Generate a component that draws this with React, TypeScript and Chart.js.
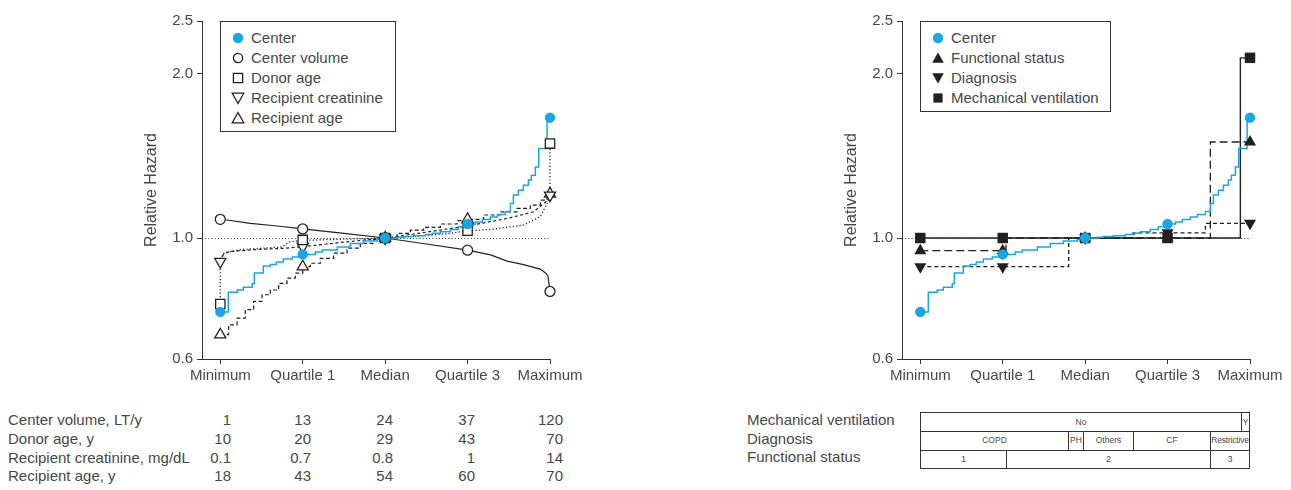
import React, { useEffect, useRef } from "react";
import { Chart, registerables } from "chart.js";

Chart.register(...registerables);

const FONT = '"Liberation Sans", Arial, Helvetica, sans-serif';
const TEXT = "#474747";
const INK = "#231f20";
const BLUE = "#1aa7e1";

// ---------- axis content ----------
const quartileLabels = ["Minimum", "Quartile 1", "Median", "Quartile 3", "Maximum"];
const quartilePositions = [0, 1, 2, 3, 4];
const yTickValues = [0.6, 1.0, 2.0, 2.5];

// ---------- Center (both panels) ----------
const centerX = [0, 0.097, 0.206, 0.279, 0.388, 0.413, 0.522, 0.607, 0.68, 0.765, 0.874, 1.0, 1.153, 1.238, 1.42, 1.578, 1.735, 1.905, 2.0, 2.148, 2.221, 2.342, 2.488, 2.573, 2.67, 2.791, 2.888, 3.0, 3.095, 3.18, 3.277, 3.362, 3.459, 3.519, 3.556, 3.617, 3.677, 3.738, 3.774, 3.823, 3.863, 3.965, 4.0];
const centerY = [0.732, 0.795, 0.803, 0.812, 0.824, 0.863, 0.889, 0.894, 0.904, 0.915, 0.923, 0.933, 0.943, 0.951, 0.963, 0.977, 0.987, 0.994, 1.0, 1.003, 1.006, 1.01, 1.015, 1.02, 1.027, 1.037, 1.049, 1.061, 1.07, 1.081, 1.093, 1.104, 1.118, 1.157, 1.199, 1.224, 1.25, 1.277, 1.304, 1.35, 1.459, 1.662, 1.662];
const centerMarkers = [0.732, 0.933, 1.0, 1.061, 1.662];

// ---------- left panel ----------
const centerVolumeX = [0, 0.08, 0.364, 0.688, 1.0, 1.5, 2.0, 2.5, 3.0, 3.28, 3.48, 3.68, 3.88, 3.95, 3.975, 4.0];
const centerVolumeY = [1.082, 1.079, 1.064, 1.052, 1.039, 1.02, 1.0, 0.975, 0.95, 0.931, 0.907, 0.894, 0.877, 0.862, 0.852, 0.798];
const centerVolumeMarkers = [1.082, 1.039, 1.0, 0.95, 0.798];

const donorAgeX = [0, 0, 0.05, 0.25, 0.6, 0.75, 0.85, 1.0, 1.5, 2.0, 2.4, 2.8, 3.0, 3.28, 3.68, 3.88, 3.965, 4.0, 4.0];
const donorAgeY = [0.757, 0.915, 0.94, 0.952, 0.96, 0.963, 0.985, 0.99, 0.995, 1.0, 1.008, 1.02, 1.031, 1.037, 1.056, 1.094, 1.157, 1.19, 1.49];
const donorAgeMarkers = [0.757, 0.992, 1.0, 1.031, 1.49];

const creatinineX = [0, 0.04, 0.12, 0.4, 0.8, 1.0, 1.5, 2.0, 2.5, 3.0, 3.05, 3.48, 3.8, 3.95, 4.0];
const creatinineY = [0.905, 0.935, 0.945, 0.952, 0.958, 0.964, 0.983, 1.0, 1.025, 1.052, 1.056, 1.086, 1.117, 1.165, 1.198];
const creatinineMarkers = [0.905, 0.964, 1.0, 1.052, 1.198];

const recipientAgeX = [0, 0.101, 0.203, 0.303, 0.404, 0.506, 0.607, 0.708, 0.809, 0.91, 1.0, 1.092, 1.214, 1.375, 1.538, 1.699, 1.86, 2.0, 2.144, 2.306, 2.467, 2.67, 2.873, 3.0, 3.195, 3.398, 3.601, 3.762, 3.883, 3.965, 4.0];
const recipientAgeY = [0.665, 0.693, 0.713, 0.739, 0.765, 0.787, 0.803, 0.826, 0.844, 0.862, 0.886, 0.899, 0.918, 0.938, 0.958, 0.978, 0.995, 1.0, 1.02, 1.034, 1.046, 1.061, 1.076, 1.082, 1.102, 1.117, 1.133, 1.149, 1.173, 1.19, 1.205];
const recipientAgeMarkers = [0.665, 0.886, 1.0, 1.082, 1.205];

// ---------- right panel ----------
const functionalX = [0, 1.04, 3.519, 4.0];
const functionalY = [0.948, 1.0, 1.5, 1.5];
const functionalMarkers = [0.948, 0.948, 1.0, 1.0, 1.5];

const diagnosisX = [0, 1.8, 2.589, 3.459, 4.0];
const diagnosisY = [0.886, 1.0, 1.022, 1.064, 1.064];
const diagnosisMarkers = [0.886, 0.886, 1.0, 1.022, 1.064];

const ventilationX = [0, 3.883, 4.0];
const ventilationY = [1.0, 2.14, 2.14];
const ventilationMarkers = [1.0, 1.0, 1.0, 1.0, 2.14];

// ---------- tables ----------
const leftTableLabels = ["Center volume, LT/y", "Donor age, y", "Recipient creatinine, mg/dL", "Recipient age, y"];
const centerVolumeQuartiles = ["1", "13", "24", "37", "120"];
const donorAgeQuartiles = ["10", "20", "29", "43", "70"];
const creatinineQuartiles = ["0.1", "0.7", "0.8", "1", "14"];
const recipientAgeQuartiles = ["18", "43", "54", "60", "70"];

const rightTableLabels = ["Mechanical ventilation", "Diagnosis", "Functional status"];
const ventilationCategories = ["No", "Y"];
const diagnosisCategories = ["COPD", "PH", "Others", "CF", "Restrictive"];
const functionalCategories = ["1", "2", "3"];

// ---------- layout constants ----------
const LEFT_TABLE_COL_RIGHT = [231, 311, 393, 475, 563];
const LEFT_TABLE_ROW_CENTER = [420, 438.8, 457.6, 476.4];
const RIGHT_TABLE_ROWS = [412, 431, 449.5, 468];
const VENT_EDGES = [920, 1241, 1249];
const DIAG_EDGES = [920, 1068, 1083, 1133, 1210, 1249];
const FUNC_EDGES = [920, 1006, 1210, 1249];

Chart.defaults.font.family = FONT;

type Pt = { x: number; y: number };
const toPts = (xs: number[], ys: number[]): Pt[] => xs.map((x, i) => ({ x, y: ys[i] }));

function lineDs(xs: number[], ys: number[], opts: any) {
  return {
    data: toPts(xs, ys),
    borderColor: opts.color || INK,
    borderWidth: opts.width || 1.2,
    borderDash: opts.dash || [],
    stepped: opts.stepped || false,
    pointRadius: 0,
    fill: false,
    tension: 0,
    clip: false,
    order: opts.order ?? 5,
  };
}

function markerDs(vals: number[], opts: any) {
  return {
    data: toPts(quartilePositions, vals),
    showLine: false,
    pointStyle: opts.style,
    pointRadius: opts.radius,
    pointRotation: opts.rotation || 0,
    pointBackgroundColor: opts.fill,
    pointBorderColor: opts.stroke || INK,
    pointBorderWidth: opts.borderWidth ?? 1.3,
    clip: false,
    order: opts.order ?? 2,
  };
}

const refLinePlugin = {
  id: "refLine",
  beforeDatasetsDraw(chart: any) {
    const { ctx, chartArea, scales } = chart;
    const y = Math.round(scales.y.getPixelForValue(1)) + 0.5;
    ctx.save();
    ctx.setLineDash([1, 2.2]);
    ctx.strokeStyle = "#333";
    ctx.lineWidth = 1;
    ctx.beginPath();
    ctx.moveTo(chartArea.left, y);
    ctx.lineTo(chartArea.right, y);
    ctx.stroke();
    ctx.restore();
  },
};

function makeOptions() {
  return {
    responsive: false,
    animation: false,
    devicePixelRatio: 1,
    layout: { padding: { top: 21, right: 60, bottom: 11, left: 0 } },
    plugins: { legend: { display: false }, tooltip: { enabled: false } },
    events: [],
    scales: {
      x: {
        type: "linear",
        min: -0.222,
        max: 4,
        afterBuildTicks: (s: any) => {
          s.ticks = quartilePositions.map((v) => ({ value: v }));
        },
        afterFit: (s: any) => {
          s.height = 30;
          s.paddingLeft = 0;
          s.paddingRight = 0;
        },
        ticks: {
          callback: (_v: any, i: number) => quartileLabels[i],
          font: { size: 15, family: FONT },
          color: TEXT,
          padding: 3,
          maxRotation: 0,
          autoSkip: false,
        },
        grid: { drawOnChartArea: false, drawTicks: true, tickLength: 5, color: "#333", lineWidth: 1 },
        border: { display: true, color: "#333", width: 1 },
      },
      y: {
        type: "logarithmic",
        min: 0.6,
        max: 2.5,
        afterBuildTicks: (s: any) => {
          s.ticks = yTickValues.map((v) => ({ value: v }));
        },
        afterFit: (s: any) => {
          s.width = 72;
          s.paddingTop = 0;
          s.paddingBottom = 0;
        },
        ticks: {
          callback: (v: any) => Number(v).toFixed(1),
          font: { size: 15, family: FONT },
          color: TEXT,
          padding: 4,
          autoSkip: false,
        },
        grid: { drawOnChartArea: false, drawTicks: true, tickLength: 5, color: "#333", lineWidth: 1 },
        border: { display: true, color: "#333", width: 1 },
        title: {
          display: true,
          text: "Relative Hazard",
          font: { size: 16, family: FONT },
          color: TEXT,
          padding: { top: 12, bottom: 0 },
        },
      },
    },
  };
}

function leftDatasets() {
  return [
    lineDs(centerVolumeX, centerVolumeY, { width: 1.2 }),
    lineDs(donorAgeX, donorAgeY, { dash: [1.2, 2.2], width: 1.3 }),
    lineDs(creatinineX, creatinineY, { dash: [3, 2.5], width: 1.2 }),
    lineDs(recipientAgeX, recipientAgeY, { dash: [4, 2.5], width: 1.2, stepped: true }),
    lineDs(centerX, centerY, { color: BLUE, width: 1.5, stepped: true, order: 3 }),
    markerDs(centerVolumeMarkers, { style: "circle", radius: 5, fill: "#fff" }),
    markerDs(donorAgeMarkers, { style: "rect", radius: 6.6, fill: "#fff" }),
    markerDs(creatinineMarkers, { style: "triangle", radius: 6.4, rotation: 180, fill: "#fff" }),
    markerDs(recipientAgeMarkers, { style: "triangle", radius: 6.4, fill: "#fff" }),
    markerDs(centerMarkers, { style: "circle", radius: 5.2, fill: BLUE, stroke: BLUE, borderWidth: 0, order: 0 }),
  ];
}

function rightDatasets() {
  return [
    lineDs(ventilationX, ventilationY, { width: 1.4, stepped: true }),
    lineDs(functionalX, functionalY, { dash: [8, 4], width: 1.3, stepped: true }),
    lineDs(diagnosisX, diagnosisY, { dash: [4, 3], width: 1.3, stepped: true }),
    lineDs(centerX, centerY, { color: BLUE, width: 1.5, stepped: true, order: 3 }),
    markerDs(ventilationMarkers, { style: "rect", radius: 7.4, fill: INK, borderWidth: 0 }),
    markerDs(functionalMarkers, { style: "triangle", radius: 7, fill: INK, borderWidth: 0 }),
    markerDs(diagnosisMarkers, { style: "triangle", radius: 7, rotation: 180, fill: INK, borderWidth: 0 }),
    markerDs(centerMarkers, { style: "circle", radius: 5.2, fill: BLUE, stroke: BLUE, borderWidth: 0, order: 0 }),
  ];
}

function ChartPanel({ left, build }: { left: number; build: () => any[] }) {
  const ref = useRef<HTMLCanvasElement>(null);
  useEffect(() => {
    const chart = new Chart(ref.current as HTMLCanvasElement, {
      type: "line",
      data: { datasets: build() as any },
      options: makeOptions() as any,
      plugins: [refLinePlugin],
    });
    return () => chart.destroy();
  }, []);
  return (
    <canvas
      ref={ref}
      width={480}
      height={400}
      style={{ position: "absolute", left, top: 0, width: 480, height: 400 }}
    />
  );
}

function MarkerIcon({ shape, fill }: { shape: string; fill: string }) {
  const stroke = shape === "blue" ? BLUE : INK;
  let el: any = null;
  if (shape === "blue" || shape === "circle") {
    el = <circle cx={7} cy={7} r={shape === "blue" ? 5.2 : 4.6} fill={fill} stroke={stroke} strokeWidth={shape === "blue" ? 0 : 1.3} />;
  } else if (shape === "square") {
    el = <rect x={2.4} y={2.4} width={9.2} height={9.2} fill={fill} stroke={stroke} strokeWidth={fill === "#fff" ? 1.3 : 0} />;
  } else if (shape === "up") {
    el = <polygon points="7,1.5 12.8,11.8 1.2,11.8" fill={fill} stroke={stroke} strokeWidth={fill === "#fff" ? 1.3 : 0} />;
  } else if (shape === "down") {
    el = <polygon points="1.2,2.2 12.8,2.2 7,12.5" fill={fill} stroke={stroke} strokeWidth={fill === "#fff" ? 1.3 : 0} />;
  }
  return (
    <svg width={14} height={14} style={{ position: "absolute", left: 9.7, top: -7 }}>
      {el}
    </svg>
  );
}

function Legend({ left, width, height, items }: { left: number; width: number; height: number; items: { label: string; shape: string; fill: string }[] }) {
  return (
    <div
      style={{
        position: "absolute",
        left,
        top: 21,
        width,
        height,
        boxSizing: "border-box",
        border: "1.3px solid #333",
        background: "#fff",
      }}
    >
      {items.map((it, i) => (
        <div key={i} style={{ position: "absolute", left: 0, top: 16.3 + i * 19.9, height: 0 }}>
          <MarkerIcon shape={it.shape} fill={it.fill} />
          <div
            style={{
              position: "absolute",
              left: 30,
              top: -10,
              height: 20,
              lineHeight: "20px",
              fontSize: 15,
              whiteSpace: "nowrap",
              color: TEXT,
            }}
          >
            {it.label}
          </div>
        </div>
      ))}
    </div>
  );
}

function TextAt({ x, cy, text, align = "left", size = 15 }: { x: number; cy: number; text: string; align?: string; size?: number }) {
  const style: any = {
    position: "absolute",
    top: cy - 10,
    height: 20,
    lineHeight: "20px",
    fontSize: size,
    whiteSpace: "nowrap",
    color: TEXT,
  };
  if (align === "right") style.right = 1291 - x;
  else style.left = x;
  return <div style={style}>{text}</div>;
}

function CellRow({ edges, labels, top, bottom }: { edges: number[]; labels: string[]; top: number; bottom: number }) {
  return (
    <>
      {labels.map((lab, i) => (
        <div
          key={i}
          style={{
            position: "absolute",
            left: edges[i],
            top,
            width: edges[i + 1] - edges[i] + 1,
            height: bottom - top + 1,
            boxSizing: "border-box",
            border: "1px solid #333",
            fontSize: 8.5,
            lineHeight: `${bottom - top - 1}px`,
            textAlign: "center",
            whiteSpace: "nowrap",
            color: TEXT,
            overflow: "visible",
            letterSpacing: lab.length > 8 ? "-0.2px" : "0px",
          }}
        >
          <span style={{ display: "inline-block" }}>{lab}</span>
        </div>
      ))}
    </>
  );
}

export default function App() {
  const leftRowsValues = [centerVolumeQuartiles, donorAgeQuartiles, creatinineQuartiles, recipientAgeQuartiles];
  const rowCenters = RIGHT_TABLE_ROWS.slice(0, 3).map((t, i) => (t + RIGHT_TABLE_ROWS[i + 1]) / 2 - 1.5);
  return (
    <div
      style={{
        position: "fixed",
        left: 0,
        top: 0,
        width: 1291,
        height: 490,
        background: "#fff",
        fontFamily: FONT,
        color: TEXT,
        overflow: "hidden",
      }}
    >
      <ChartPanel left={130} build={leftDatasets} />
      <ChartPanel left={830} build={rightDatasets} />

      <Legend
        left={220}
        width={176}
        height={111}
        items={[
          { label: "Center", shape: "blue", fill: BLUE },
          { label: "Center volume", shape: "circle", fill: "#fff" },
          { label: "Donor age", shape: "square", fill: "#fff" },
          { label: "Recipient creatinine", shape: "down", fill: "#fff" },
          { label: "Recipient age", shape: "up", fill: "#fff" },
        ]}
      />
      <Legend
        left={920}
        width={191}
        height={91}
        items={[
          { label: "Center", shape: "blue", fill: BLUE },
          { label: "Functional status", shape: "up", fill: INK },
          { label: "Diagnosis", shape: "down", fill: INK },
          { label: "Mechanical ventilation", shape: "square", fill: INK },
        ]}
      />

      {leftTableLabels.map((lab, r) => (
        <React.Fragment key={r}>
          <TextAt x={8} cy={LEFT_TABLE_ROW_CENTER[r]} text={lab} />
          {leftRowsValues[r].map((v, c) => (
            <TextAt key={c} x={LEFT_TABLE_COL_RIGHT[c]} cy={LEFT_TABLE_ROW_CENTER[r]} text={v} align="right" />
          ))}
        </React.Fragment>
      ))}

      {rightTableLabels.map((lab, r) => (
        <TextAt key={r} x={747} cy={rowCenters[r]} text={lab} />
      ))}
      <CellRow edges={VENT_EDGES} labels={ventilationCategories} top={RIGHT_TABLE_ROWS[0]} bottom={RIGHT_TABLE_ROWS[1]} />
      <CellRow edges={DIAG_EDGES} labels={diagnosisCategories} top={RIGHT_TABLE_ROWS[1]} bottom={RIGHT_TABLE_ROWS[2]} />
      <CellRow edges={FUNC_EDGES} labels={functionalCategories} top={RIGHT_TABLE_ROWS[2]} bottom={RIGHT_TABLE_ROWS[3]} />
    </div>
  );
}
